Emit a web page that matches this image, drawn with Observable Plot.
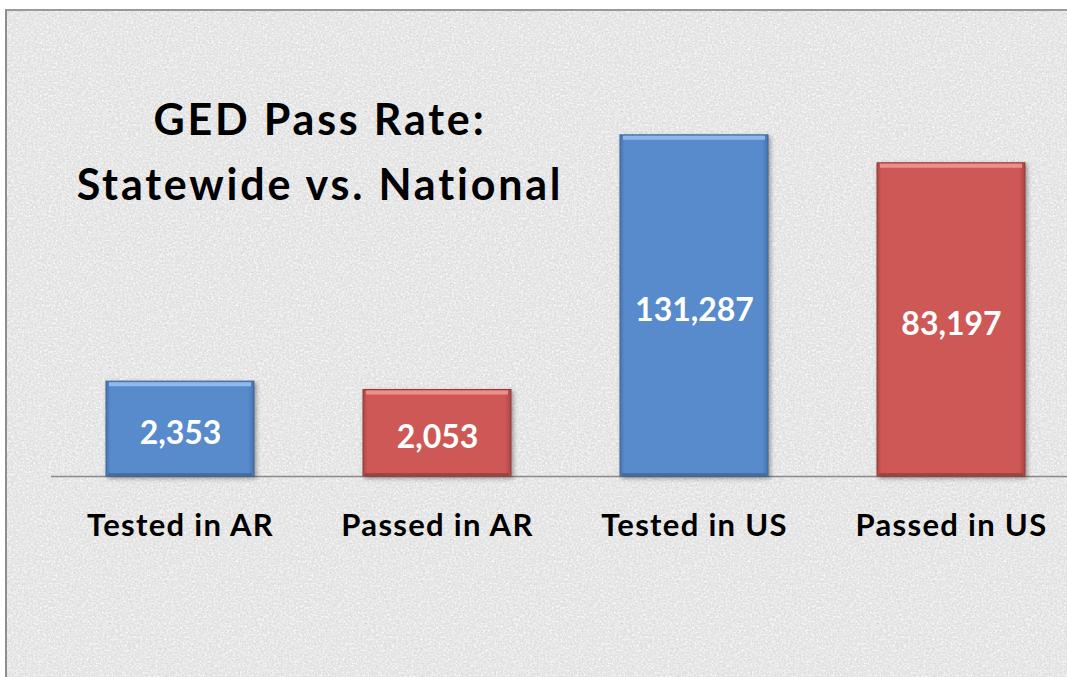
<!DOCTYPE html>
<html>
<head>
<meta charset="utf-8">
<script src="https://cdn.jsdelivr.net/npm/d3@7"></script>
<script src="https://cdn.jsdelivr.net/npm/@observablehq/plot@0.6"></script>
<style>
  html, body { margin: 0; padding: 0; background: #fff; }
  #page { position: relative; width: 1067px; height: 677px; overflow: hidden; font-family: Lato, "Open Sans", sans-serif; }
  #panel { position: absolute; left: 5px; top: 9px; width: 1080px; height: 700px;
           border-left: 2px solid #8e8e8e; border-top: 2px solid #9a9a9a; box-sizing: border-box; }
  #chart { position: absolute; left: 0; top: 0; }
  #title { position: absolute; left: 20px; width: 600px; top: 86px; text-align: center;
           font-weight: 700; font-size: 43px; letter-spacing: 2.8px; line-height: 65px; color: #000; }
</style>
</head>
<body>
<div id="page">
  <div id="panel"></div>
  <div id="chart"></div>
  <div id="title">GED Pass Rate:<br>Statewide vs. National</div>
</div>
<script>
// ---- data ----
const categories = ["Tested in AR", "Passed in AR", "Tested in US", "Passed in US"];
const values = [2353, 2053, 131287, 83197];
const groups = ["Tested", "Passed", "Tested", "Passed"];
const yDomain = [500, 1000000];

const data = categories.map((c, i) => ({category: c, value: values[i], group: groups[i]}));

// ---- textured background ----
const noiseSvg = `<svg xmlns='http://www.w3.org/2000/svg' width='256' height='256'>
<filter id='n' x='0' y='0'><feTurbulence type='fractalNoise' baseFrequency='0.6' numOctaves='3' seed='7' stitchTiles='stitch'/>
<feColorMatrix type='matrix' values='0 0 0 0 0.6 0 0 0 0 0.6 0 0 0 0 0.6 2.6 0 0 0 -1.15'/></filter>
<filter id='w' x='0' y='0'><feTurbulence type='fractalNoise' baseFrequency='0.45' numOctaves='2' seed='3' stitchTiles='stitch'/>
<feColorMatrix type='matrix' values='0 0 0 0 1 0 0 0 0 1 0 0 0 0 1 0 2.6 0 0 -1.1'/></filter>
<rect width='256' height='256' fill='#e6e6e6'/>
<rect width='256' height='256' filter='url(#w)' opacity='0.8'/>
<rect width='256' height='256' filter='url(#n)' opacity='0.6'/></svg>`;
document.getElementById("panel").style.background =
  `url("data:image/svg+xml,${encodeURIComponent(noiseSvg)}")`;

const fills = {Tested: "url(#gBlue)", Passed: "url(#gRed)"};
const tops = {Tested: "#8fb8ec", Passed: "#f08e8b"};
const bottoms = {Tested: "#3d6498", Passed: "#923c3a"};

const chart = Plot.plot({
  width: 1067,
  height: 677,
  marginTop: 10.5,
  marginBottom: 201,
  marginLeft: 51,
  marginRight: 0,
  style: {background: "transparent", overflow: "visible", fontFamily: "Lato, 'Open Sans', sans-serif"},
  x: {domain: categories, range: [52, 1080], paddingInner: 0.424, paddingOuter: 0.212, label: null},
  y: {type: "log", domain: yDomain, axis: null},
  marks: [
    Plot.ruleY([yDomain[0]], {stroke: "#8a8a8a", strokeWidth: 1.6}),
    Plot.barY(data, {x: "category", y1: yDomain[0], y2: "value",
      fill: d => fills[d.group], stroke: d => bottoms[d.group], strokeWidth: 1}),
    Plot.tickY(data, {x: "category", y: "value", stroke: d => tops[d.group],
      strokeWidth: 4, dy: 2.5, insetLeft: 3, insetRight: 3}),
    Plot.tickY(data, {x: "category", y: yDomain[0], stroke: d => bottoms[d.group],
      strokeWidth: 3, dy: -2, insetLeft: 2, insetRight: 2, strokeOpacity: 0.7}),
    Plot.text(data, {x: "category", y: d => Math.sqrt(d.value * yDomain[0]),
      text: d => d3.format(",")(d.value), fill: "white", fontWeight: 700, fontSize: 32, dy: 5}),
    Plot.axisX({fontSize: 31, fontWeight: 700, tickSize: 0, tickPadding: 37, color: "#000", label: null})
  ]
});

// gradients for bevelled bars
const defs = d3.select(chart).insert("defs", ":first-child");
function grad(id, edge, base) {
  const g = defs.append("linearGradient").attr("id", id).attr("x1", 0).attr("x2", 1).attr("y1", 0).attr("y2", 0);
  [[0, edge], [0.03, base], [0.96, base], [1, edge]].forEach(([o, c]) =>
    g.append("stop").attr("offset", o).attr("stop-color", c));
}
grad("gBlue", "#4674b0", "#578bcb");
grad("gRed", "#ad4644", "#cd5855");
d3.select(chart).selectAll("g[aria-label=bar]").style("filter", "drop-shadow(2px 2px 2px rgba(0,0,0,0.35))");
d3.select(chart).selectAll("g[aria-label='x-axis tick label'] text").style("letter-spacing", "1.3px");

document.getElementById("chart").appendChild(chart);
</script>
</body>
</html>
